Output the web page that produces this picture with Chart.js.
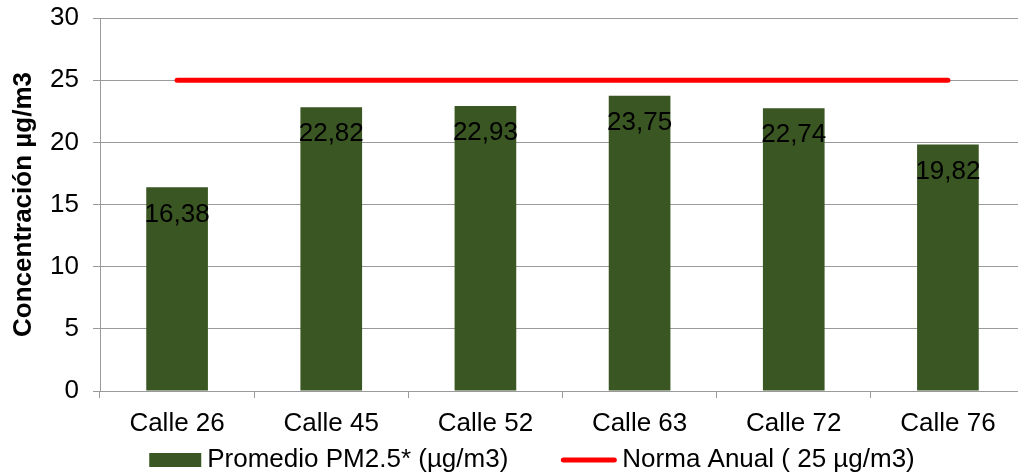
<!DOCTYPE html>
<html>
<head>
<meta charset="utf-8">
<script src="https://cdn.jsdelivr.net/npm/chart.js@4"></script>
<style>
  html, body { margin: 0; padding: 0; background: #fff; overflow: hidden; }
  #wrap { width: 1072px; height: 476px; }
</style>
</head>
<body>
<div id="wrap"><canvas id="pmChart" width="1072" height="476"></canvas></div>
<script>
// Data
const calles = ['Calle 26', 'Calle 45', 'Calle 52', 'Calle 63', 'Calle 72', 'Calle 76'];
const promedioPM25 = [16.38, 22.82, 22.93, 23.75, 22.74, 19.82];
const normaAnual = [25, 25, 25, 25, 25, 25];
const yTicks = [0, 5, 10, 15, 20, 25, 30];

const FONT = 'Liberation Sans, Arial, sans-serif';
const FSIZE = 26;
const GRID = '#9a9a9a';

// value labels inside the top of each bar, decimal comma
const barLabels = {
    id: 'barLabels',
    afterDatasetsDraw(chart) {
        const meta = chart.getDatasetMeta(0);
        const ctx = chart.ctx;
        ctx.save();
        ctx.font = FSIZE + 'px ' + FONT;
        ctx.fillStyle = '#000';
        ctx.textAlign = 'center';
        ctx.textBaseline = 'middle';
        meta.data.forEach((bar, i) => {
            const txt = promedioPM25[i].toFixed(2).replace('.', ',');
            ctx.fillText(txt, bar.x, bar.y + 27);
        });
        ctx.restore();
    }
};

// Excel-like legend under the axis
const bottomLegend = {
    id: 'bottomLegend',
    afterDraw(chart) {
        const ctx = chart.ctx;
        const ds = chart.data.datasets;
        ctx.save();
        ctx.font = FSIZE + 'px ' + FONT;
        ctx.textBaseline = 'middle';
        ctx.textAlign = 'left';
        const w1 = ctx.measureText(ds[0].label).width;
        const w2 = ctx.measureText(ds[1].label).width;
        const total = 52 + 6 + w1 + 53 + 55 + 6 + w2;
        let x = 532 - total / 2;
        const y = 460;
        ctx.fillStyle = ds[0].backgroundColor;
        ctx.fillRect(x, y - 7, 52, 14);
        x += 58;
        ctx.fillStyle = '#000';
        ctx.fillText(ds[0].label, x, y);
        x += w1 + 53;
        ctx.strokeStyle = ds[1].borderColor;
        ctx.lineWidth = 5;
        ctx.lineCap = 'round';
        ctx.beginPath();
        ctx.moveTo(x + 2, y);
        ctx.lineTo(x + 53, y);
        ctx.stroke();
        x += 61;
        ctx.fillText(ds[1].label, x, y);
        ctx.restore();
    }
};

new Chart(document.getElementById('pmChart').getContext('2d'), {
    data: {
        labels: calles,
        datasets: [{
            type: 'bar',
            label: 'Promedio PM2.5* (µg/m3)',
            data: promedioPM25,
            backgroundColor: '#3a5623',
            barPercentage: 0.4,
            categoryPercentage: 1.0,
            order: 2
        }, {
            type: 'line',
            label: 'Norma Anual ( 25 µg/m3)',
            data: normaAnual,
            borderColor: '#ff0000',
            borderWidth: 5,
            borderCapStyle: 'round',
            pointRadius: 0,
            fill: false,
            order: 1
        }]
    },
    options: {
        responsive: false,
        animation: false,
        layout: { padding: { top: 18, right: 47, bottom: 45, left: 0 } },
        plugins: {
            legend: { display: false },
            tooltip: { enabled: false }
        },
        scales: {
            x: {
                grid: { drawOnChartArea: false, drawTicks: true, tickLength: 7, color: GRID, offset: true },
                border: { color: GRID },
                ticks: { color: '#000', font: { family: FONT, size: FSIZE }, padding: 10, maxRotation: 0 },
                afterFit(scale) { scale.height = 40; }
            },
            y: {
                min: 0,
                max: 30,
                afterBuildTicks(scale) { scale.ticks = yTicks.map(v => ({ value: v })); },
                grid: { color: GRID, tickLength: 7 },
                border: { color: GRID },
                ticks: { color: '#000', font: { family: FONT, size: FSIZE }, padding: 14 },
                title: {
                    display: true,
                    text: 'Concentración µg/m3',
                    color: '#000',
                    font: { family: FONT, size: 26, weight: 'bold' },
                    padding: { top: 8, bottom: 0 }
                },
                afterFit(scale) {
                    scale.width = 100;
                    scale.paddingTop = 0;
                    scale.paddingBottom = 0;
                }
            }
        }
    },
    plugins: [barLabels, bottomLegend]
});
</script>
</body>
</html>
